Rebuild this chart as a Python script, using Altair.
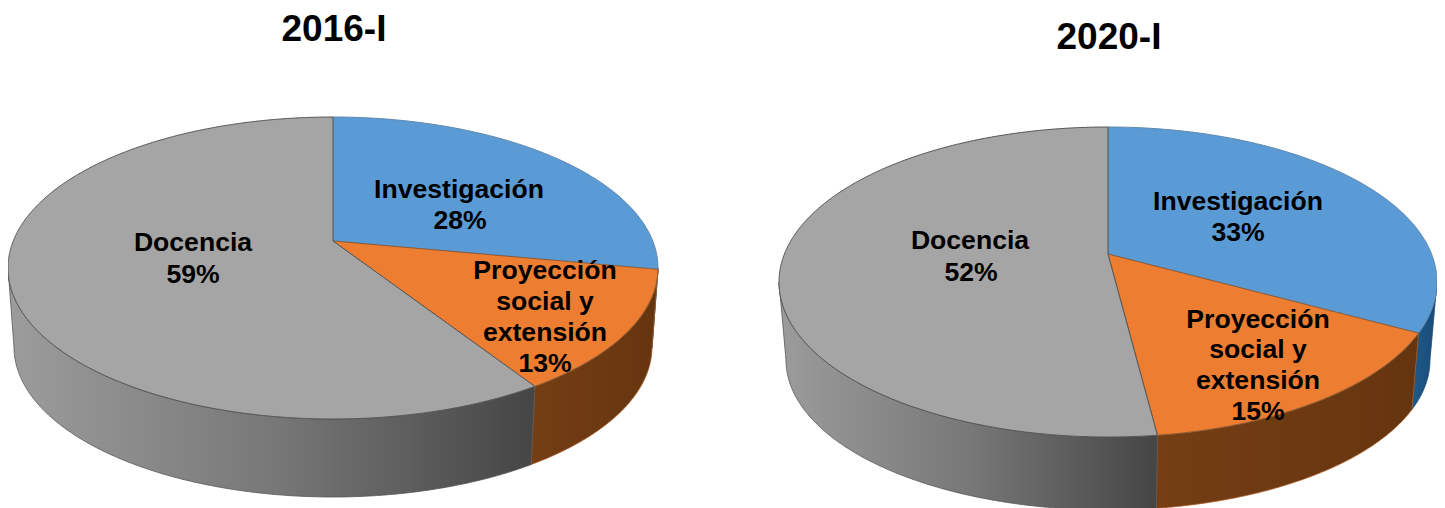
import math
import altair as alt
import pandas as pd

# --- chart values ---
years = ["2016-I", "2020-I"]
categories = ["Investigación", "Proyección social y extensión", "Docencia"]
shares_2016 = [28, 13, 59]
shares_2020 = [33, 15, 52]

# --- styles ---
top_colors = ["#5b9bd5", "#ed7d31", "#a5a5a5"]
top_strokes = ["#5f88ad", "#8a5a35", "#555555"]
side_stops = [
    ["#1f5a8c", "#174a75"],
    ["#753e14", "#65350f"],
    ["#9c9c9c", "#787878", "#454545"],
]
side_strokes = ["#1b4a70", "#a85c26", "#555555"]

# --- layout of each pie: apex, top ellipse, bottom ellipse ---
layouts = [
    dict(cx=333, apex=241, cy=268, rx=325, ry=151, cy2=347, rx2=319, ry2=150),
    dict(cx=1108, apex=254, cy=282, rx=329, ry=155, cy2=360, rx2=322, ry2=150),
]
X_DOMAIN = [8, 1437]
Y_DOMAIN = [508, 8]


def param(theta, k):
    h = math.radians(theta) / 2
    return math.degrees(2 * math.atan2(k * math.sin(h), math.cos(h)))


def top_pt(L, t):
    r = math.radians(t)
    return (L["cx"] + L["rx"] * math.sin(r), L["cy"] - L["ry"] * math.cos(r))


def bot_pt(L, t):
    r = math.radians(t)
    return (L["cx"] + L["rx2"] * math.sin(r), L["cy2"] - L["ry2"] * math.cos(r))


def arc_ts(a, b):
    n = max(2, int(abs(b - a) * 1.5))
    return [a + (b - a) * i / n for i in range(n + 1)]


def to_band(poly):
    """Turn an x-monotone polygon into x / y / y2 rows for an area mark."""
    xs = sorted({round(p[0] + d, 3) for p in poly for d in (-0.01, 0.01)})
    rows = []
    lo_x, hi_x = min(p[0] for p in poly), max(p[0] for p in poly)
    for x in xs:
        if x < lo_x or x > hi_x:
            continue
        hits = []
        for (x1, y1), (x2, y2) in zip(poly, poly[1:] + poly[:1]):
            if (x1 < x) != (x2 < x):
                hits.append(y1 + (y2 - y1) * (x - x1) / (x2 - x1))
        if len(hits) >= 2:
            rows.append(dict(x=x, y=min(hits), y2=max(hits)))
    return pd.DataFrame(rows)


x_scale = alt.Scale(domain=X_DOMAIN, nice=False, zero=False)
y_scale = alt.Scale(domain=Y_DOMAIN, nice=False, zero=False)


def area_layer(df, fill, stroke, width=1.0):
    return alt.Chart(df).mark_area(
        color=fill, stroke=stroke, strokeWidth=width, clip=True, interpolate="linear"
    ).encode(
        x=alt.X("x:Q", scale=x_scale, axis=None),
        y=alt.Y("y:Q", scale=y_scale, axis=None),
        y2="y2:Q",
    )


def gradient(stops):
    n = len(stops) - 1
    return alt.LinearGradient(
        gradient="linear",
        x1=0, x2=1, y1=0, y2=0,
        stops=[alt.GradientStop(color=c, offset=i / n) for i, c in enumerate(stops)],
    )


layers = []
for L, shares in zip(layouts, [shares_2016, shares_2020]):
    e = (L["cy"] - L["apex"]) / L["ry"]
    k = math.sqrt((1 - e) / (1 + e))
    cum = [0]
    for s in shares:
        cum.append(cum[-1] + s)
    ts = [param(c * 3.6, k) for c in cum]

    # side walls (visible half only)
    for i in range(3):
        a, b = max(ts[i], 90), min(ts[i + 1], 270)
        if a >= b:
            continue
        upper = [top_pt(L, t) for t in arc_ts(a, b)]
        lower = [bot_pt(L, t) for t in arc_ts(b, a)]
        layers.append(area_layer(to_band(upper + lower), gradient(side_stops[i]), side_strokes[i], 0.8))

    # top surface
    for i in range(3):
        arc = [top_pt(L, t) for t in arc_ts(ts[i], ts[i + 1])]
        poly = [(L["cx"], L["apex"])] + arc
        layers.append(area_layer(to_band(poly), top_colors[i], top_strokes[i], 1.0))

# --- text ---
label_rows = [
    ("Docencia", 193, 243), ("59%", 193, 275),
    ("Investigación", 459, 190), ("28%", 460, 221),
    ("Proyección", 545, 271), ("social y", 545, 302), ("extensión", 545, 333), ("13%", 545, 364),
    ("Docencia", 970, 241), ("52%", 971, 273),
    ("Investigación", 1238, 202), ("33%", 1238, 233),
    ("Proyección", 1258, 320), ("social y", 1258, 350), ("extensión", 1258, 381), ("15%", 1258, 412),
]
labels = pd.DataFrame(label_rows, columns=["text", "x", "y"])
titles = pd.DataFrame({"text": years, "x": [334, 1109], "y": [30, 38]})


def text_layer(df, size):
    return alt.Chart(df).mark_text(
        font="Liberation Sans", fontWeight="bold", fontSize=size, color="black",
        align="center", baseline="middle",
    ).encode(
        x=alt.X("x:Q", scale=x_scale, axis=None),
        y=alt.Y("y:Q", scale=y_scale, axis=None),
        text="text:N",
    )


layers.append(text_layer(labels, 26.6))
layers.append(text_layer(titles, 37))

chart = alt.layer(*layers).properties(
    width=1429, height=500, padding=0, background="white",
    autosize=alt.AutoSizeParams(type="none"),
).configure_view(strokeWidth=0, stroke="transparent")

chart.save("out.html", embed_options={"renderer": "svg", "actions": False})
